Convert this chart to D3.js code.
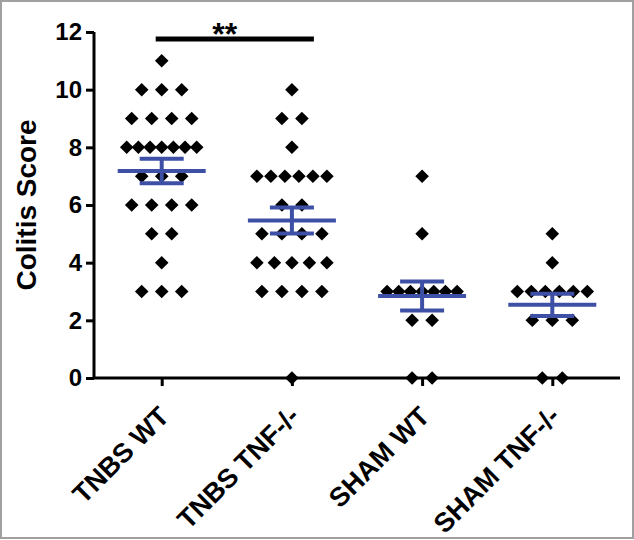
<!DOCTYPE html>
<html>
<head>
<meta charset="utf-8">
<script src="https://cdn.jsdelivr.net/npm/d3@7"></script>
<style>
  body { margin: 0; background: #fff; }
  text { font-family: "Liberation Sans", Arial, sans-serif; font-weight: bold; }
</style>
</head>
<body>
<script>
// colitis scores
var groups = ["TNBS WT", "TNBS TNF-/-", "SHAM WT", "SHAM TNF-/-"];

var tnbsWT  = [11,10,10,10,9,9,9,9,8,8,8,8,8,8,8,7,7,7,6,6,6,6,5,5,4,3,3,3];
var tnbsTNF = [10,9,9,8,7,7,7,7,7,7,6,6,5,5,5,5,4,4,4,4,4,3,3,3,3,0];
var shamWT  = [7,5,3,3,3,3,3,3,3,2,2,0,0];
var shamTNF = [5,4,3,3,3,3,3,3,2,2,2,0,0];

var scores = [tnbsWT, tnbsTNF, shamWT, shamTNF];
var yTicks = [0, 2, 4, 6, 8, 10, 12];
var sigLabel = "**";

var width = 634,
    height = 540;

var svg = d3.select("body").append("svg")
    .attr("width", width)
    .attr("height", height);

// grey frame round the figure
svg.append("rect")
    .attr("x", 1).attr("y", 1)
    .attr("width", width - 2).attr("height", height - 3)
    .attr("fill", "none")
    .attr("stroke", "#a0a0a0")
    .attr("stroke-width", 2);

var x = d3.scalePoint().domain(groups).range([94, 620]).padding(0.52);
var y = d3.scaleLinear().domain([0, 12]).range([378, 32]);

var blue = "#3d50a6";

// spread the points of one value side by side (like a prism scatter)
var points = [];
scores.forEach(function(vals, gi) {
    var counts = d3.rollup(vals, v => v.length, d => d);
    counts.forEach(function(n, v) {
        var step = n > 1 ? Math.min(20, 70 / (n - 1)) : 0;
        for (var i = 0; i < n; i++) {
            points.push({g: groups[gi], v: v, dx: (i - (n - 1) / 2) * step});
        }
    });
});

var diamond = d3.symbol().type(d3.symbolSquare).size(92);

svg.append("g")
    .selectAll("path")
    .data(points)
    .enter().append("path")
    .attr("d", diamond)
    .attr("fill", "#000")
    .attr("transform", function(d) {
        return "translate(" + (x(d.g) + d.dx) + "," + y(d.v) + ") rotate(45)";
    });

// mean +/- SEM
var stats = scores.map(function(vals, gi) {
    var m = d3.mean(vals);
    var sem = d3.deviation(vals) / Math.sqrt(vals.length);
    return {g: groups[gi], mean: m, sem: sem};
});

var bars = svg.append("g").attr("stroke", blue).attr("stroke-width", 4);
stats.forEach(function(s) {
    var cx = x(s.g);
    bars.append("line")
        .attr("x1", cx - 44).attr("x2", cx + 44)
        .attr("y1", y(s.mean)).attr("y2", y(s.mean));
    bars.append("line")
        .attr("x1", cx).attr("x2", cx)
        .attr("y1", y(s.mean + s.sem)).attr("y2", y(s.mean - s.sem));
    [s.mean + s.sem, s.mean - s.sem].forEach(function(v) {
        bars.append("line")
            .attr("x1", cx - 22).attr("x2", cx + 22)
            .attr("y1", y(v)).attr("y2", y(v));
    });
});

// axes
var yAxis = svg.append("g")
    .attr("transform", "translate(94,0)")
    .call(d3.axisLeft(y).tickValues(yTicks).tickSize(8).tickPadding(4));

var xAxis = svg.append("g")
    .attr("transform", "translate(0,378)")
    .call(d3.axisBottom(x).tickSize(8).tickFormat(""));

[yAxis, xAxis].forEach(function(a) {
    a.select(".domain").attr("stroke", "#000").attr("stroke-width", 3);
    a.selectAll(".tick line").attr("stroke", "#000").attr("stroke-width", 3);
});
yAxis.select(".domain").attr("d", "M0,32V378");
xAxis.select(".domain").attr("d", "M94,0H620");

yAxis.selectAll(".tick text")
    .attr("font-size", 24)
    .attr("fill", "#000");

// rotated category labels
svg.append("g")
    .selectAll("text")
    .data(groups)
    .enter().append("text")
    .attr("text-anchor", "end")
    .attr("font-size", 27)
    .attr("transform", function(d) {
        return "translate(" + (x(d) + 9) + ",418) rotate(-45)";
    })
    .text(function(d) { return d; });

svg.append("text")
    .attr("text-anchor", "middle")
    .attr("font-size", 28)
    .attr("transform", "translate(36," + y(6) + ") rotate(-90)")
    .text("Colitis Score");

// significance bar between the two TNBS groups
svg.append("line")
    .attr("x1", x(groups[0]) - 6).attr("x2", x(groups[1]) + 22)
    .attr("y1", 39).attr("y2", 39)
    .attr("stroke", "#000").attr("stroke-width", 5);

svg.append("text")
    .attr("x", (x(groups[0]) + x(groups[1])) / 2 - 2)
    .attr("y", 45)
    .attr("text-anchor", "middle")
    .attr("font-size", 32)
    .text(sigLabel);
</script>
</body>
</html>
